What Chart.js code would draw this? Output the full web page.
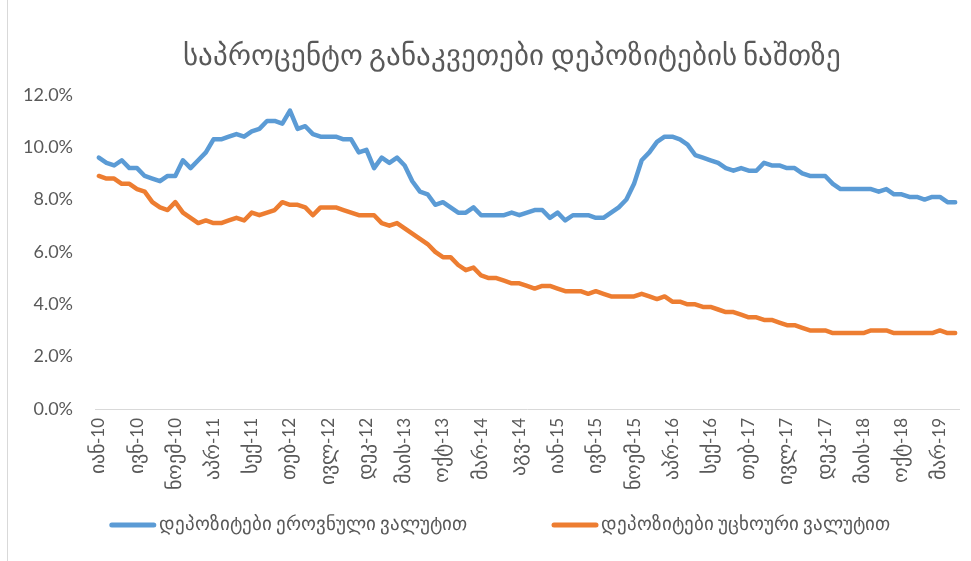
<!DOCTYPE html>
<html>
<head>
<meta charset="utf-8">
<title>საპროცენტო განაკვეთები დეპოზიტების ნაშთზე</title>
<script src="https://cdn.jsdelivr.net/npm/chart.js@4.4.1/dist/chart.umd.min.js"></script>
<style>
    /* wider Georgian glyphs, latin and digits stay in Lato */
    @font-face {
        font-family: 'GeoWide';
        src: local('DejaVu Sans');
        unicode-range: U+10A0-10FF;
        size-adjust: 120%;
    }
    html, body { margin: 0; padding: 0; background: #fff; }
    #wrap { position: relative; width: 971px; height: 561px; }
    #frame { position: absolute; left: 7px; top: 0; bottom: 0; border-left: 1px solid #d9d9d9; }
</style>
</head>
<body>
<div id="wrap">
    <canvas id="myChart" width="971" height="561"></canvas>
    <div id="frame"></div>
</div>
<script>
// monthly rates, Jan 2010 - May 2019, in percent
const monthNames = ['იან', 'თებ', 'მარ', 'აპრ', 'მაის', 'ივნ', 'ივლ', 'აგვ', 'სექ', 'ოქტ', 'ნოემ', 'დეკ'];
const years = [10, 11, 12, 13, 14, 15, 16, 17, 18, 19];
const lastMonth = 4; // May 2019

const categories = [];
years.forEach(y => {
    monthNames.forEach((m, i) => {
        if (y === 19 && i > lastMonth) return;
        categories.push(m + '-' + y);
    });
});

const localCurrency = [
    9.6, 9.4, 9.3, 9.5, 9.2, 9.2, 8.9, 8.8, 8.7, 8.9,
    8.9, 9.5, 9.2, 9.5, 9.8, 10.3, 10.3, 10.4, 10.5, 10.4,
    10.6, 10.7, 11.0, 11.0, 10.9, 11.4, 10.7, 10.8, 10.5, 10.4,
    10.4, 10.4, 10.3, 10.3, 9.8, 9.9, 9.2, 9.6, 9.4, 9.6,
    9.3, 8.7, 8.3, 8.2, 7.8, 7.9, 7.7, 7.5, 7.5, 7.7,
    7.4, 7.4, 7.4, 7.4, 7.5, 7.4, 7.5, 7.6, 7.6, 7.3,
    7.5, 7.2, 7.4, 7.4, 7.4, 7.3, 7.3, 7.5, 7.7, 8.0,
    8.6, 9.5, 9.8, 10.2, 10.4, 10.4, 10.3, 10.1, 9.7, 9.6,
    9.5, 9.4, 9.2, 9.1, 9.2, 9.1, 9.1, 9.4, 9.3, 9.3,
    9.2, 9.2, 9.0, 8.9, 8.9, 8.9, 8.6, 8.4, 8.4, 8.4,
    8.4, 8.4, 8.3, 8.4, 8.2, 8.2, 8.1, 8.1, 8.0, 8.1,
    8.1, 7.9, 7.9
];

const foreignCurrency = [
    8.9, 8.8, 8.8, 8.6, 8.6, 8.4, 8.3, 7.9, 7.7, 7.6,
    7.9, 7.5, 7.3, 7.1, 7.2, 7.1, 7.1, 7.2, 7.3, 7.2,
    7.5, 7.4, 7.5, 7.6, 7.9, 7.8, 7.8, 7.7, 7.4, 7.7,
    7.7, 7.7, 7.6, 7.5, 7.4, 7.4, 7.4, 7.1, 7.0, 7.1,
    6.9, 6.7, 6.5, 6.3, 6.0, 5.8, 5.8, 5.5, 5.3, 5.4,
    5.1, 5.0, 5.0, 4.9, 4.8, 4.8, 4.7, 4.6, 4.7, 4.7,
    4.6, 4.5, 4.5, 4.5, 4.4, 4.5, 4.4, 4.3, 4.3, 4.3,
    4.3, 4.4, 4.3, 4.2, 4.3, 4.1, 4.1, 4.0, 4.0, 3.9,
    3.9, 3.8, 3.7, 3.7, 3.6, 3.5, 3.5, 3.4, 3.4, 3.3,
    3.2, 3.2, 3.1, 3.0, 3.0, 3.0, 2.9, 2.9, 2.9, 2.9,
    2.9, 3.0, 3.0, 3.0, 2.9, 2.9, 2.9, 2.9, 2.9, 2.9,
    3.0, 2.9, 2.9
];

const yTicks = { min: 0, max: 12, step: 2 };
const labelEvery = 5;

const textColor = '#595959';
const fontFamily = "GeoWide, Lato, 'DejaVu Sans', sans-serif";

// legend drawn as a single row of line swatches under the axis labels
const lineLegend = {
    id: 'lineLegend',
    afterLayout(chart, args, opts) {
        // title sits a little right of the canvas centre
        chart.titleBlock.left += opts.titleShift;
        chart.titleBlock.right += opts.titleShift;
    },
    afterDraw(chart, args, opts) {
        const ctx = chart.ctx;
        const sets = chart.data.datasets;
        ctx.save();
        ctx.font = opts.size + 'px ' + fontFamily;
        const widths = sets.map(ds => opts.swatch + opts.textGap + ctx.measureText(ds.label).width);
        const total = widths.reduce((a, b) => a + b, 0) + opts.itemGap * (sets.length - 1);
        let x = opts.center - total / 2;
        sets.forEach((ds, i) => {
            ctx.strokeStyle = ds.borderColor;
            ctx.lineWidth = opts.lineWidth;
            ctx.lineCap = 'round';
            ctx.beginPath();
            ctx.moveTo(x + 2, opts.y);
            ctx.lineTo(x + opts.swatch - 2, opts.y);
            ctx.stroke();
            ctx.fillStyle = textColor;
            ctx.textAlign = 'left';
            ctx.textBaseline = 'middle';
            ctx.fillText(ds.label, x + opts.swatch + opts.textGap, opts.y);
            x += widths[i] + opts.itemGap;
        });
        ctx.restore();
    }
};

window.onload = async function () {

    await document.fonts.load('16px GeoWide', 'ა');

    Chart.defaults.font.family = fontFamily;
    Chart.defaults.color = textColor;

    const ctx = document.getElementById('myChart').getContext('2d');

    new Chart(ctx, {
        type: 'line',
        data: {
            labels: categories,
            datasets: [
                {
                    label: 'დეპოზიტები ეროვნული ვალუტით',
                    data: localCurrency,
                    borderColor: '#5B9BD5',
                    backgroundColor: '#5B9BD5',
                    borderWidth: 4.5,
                    pointRadius: 0,
                    tension: 0,
                    borderJoinStyle: 'round',
                    borderCapStyle: 'round'
                },
                {
                    label: 'დეპოზიტები უცხოური ვალუტით',
                    data: foreignCurrency,
                    borderColor: '#ED7D31',
                    backgroundColor: '#ED7D31',
                    borderWidth: 4.5,
                    pointRadius: 0,
                    tension: 0,
                    borderJoinStyle: 'round',
                    borderCapStyle: 'round'
                }
            ]
        },
        options: {
            responsive: false,
            animation: false,
            devicePixelRatio: 1,
            layout: {
                padding: { left: 15, right: 12, top: 0, bottom: 52 }
            },
            scales: {
                x: {
                    offset: true,
                    grid: { display: false, drawTicks: false },
                    border: { display: true, color: '#d9d9d9', width: 1 },
                    ticks: {
                        autoSkip: false,
                        minRotation: 90,
                        maxRotation: 90,
                        padding: 9,
                        font: { size: 17 },
                        callback: function (value, index) {
                            return index % labelEvery === 0 ? this.getLabelForValue(value) : '';
                        }
                    },
                    afterFit: scale => {
                        scale.height = 100;
                        scale.paddingLeft = 0;
                        scale.paddingRight = 0;
                    }
                },
                y: {
                    min: yTicks.min,
                    max: yTicks.max,
                    grid: { display: false, drawTicks: false },
                    border: { display: false },
                    ticks: {
                        stepSize: yTicks.step,
                        padding: 22,
                        font: { size: 18 },
                        callback: value => value.toFixed(1) + '%'
                    },
                    afterFit: scale => { scale.width = 80; }
                }
            },
            plugins: {
                legend: { display: false },
                tooltip: { enabled: false },
                title: {
                    display: true,
                    text: 'საპროცენტო განაკვეთები დეპოზიტების ნაშთზე',
                    color: textColor,
                    font: { size: 24, weight: 'normal' },
                    padding: { top: 43, bottom: 23 }
                },
                lineLegend: {
                    titleShift: 25,
                    y: 525,
                    center: 500,
                    size: 16,
                    swatch: 46,
                    textGap: 3,
                    itemGap: 85,
                    lineWidth: 5
                }
            }
        },
        plugins: [lineLegend]
    });
};
</script>
</body>
</html>
